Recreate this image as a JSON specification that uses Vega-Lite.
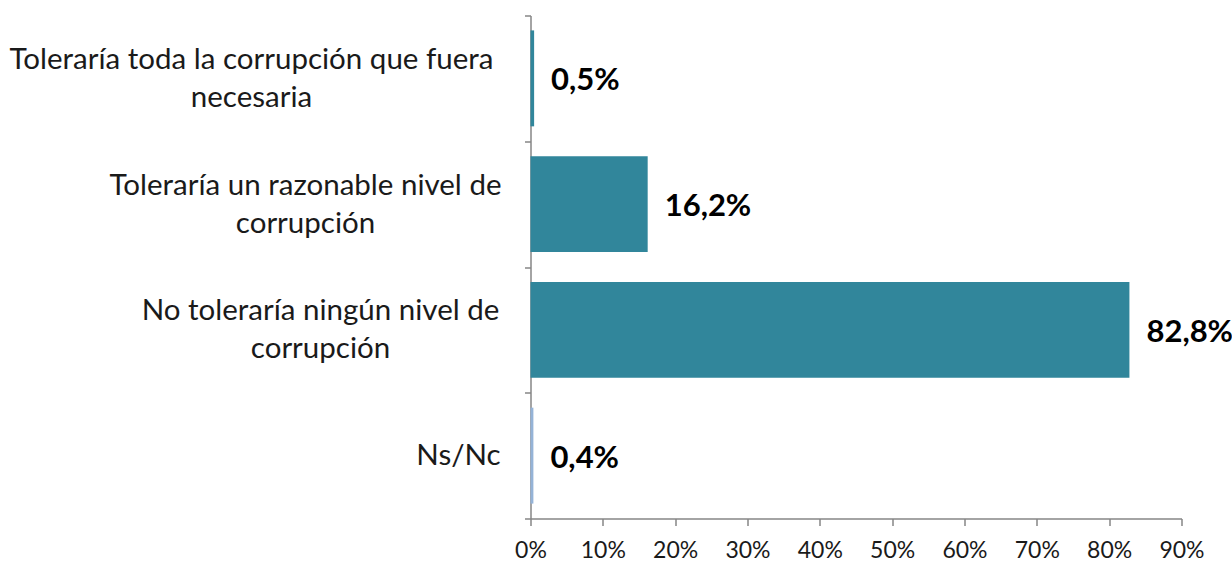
{
  "$schema": "https://vega.github.io/schema/vega-lite/v6.json",
  "width": 651,
  "height": 503,
  "autosize": {"type": "none"},
  "padding": {"left": 530.5, "top": 15.5, "right": 50.5, "bottom": 44.5},
  "background": "white",
  "data": {"values": [
    {"respuesta": "Toleraría toda la corrupción que fuera necesaria", "pct": 0.5, "grupo": "a"},
    {"respuesta": "Toleraría un razonable nivel de corrupción", "pct": 16.2, "grupo": "a"},
    {"respuesta": "No toleraría ningún nivel de corrupción", "pct": 82.8, "grupo": "a"},
    {"respuesta": "Ns/Nc", "pct": 0.4, "grupo": "b"}
  ]},
  "encoding": {
    "y": {
      "field": "respuesta", "type": "nominal", "sort": null,
      "scale": {"paddingInner": 0, "paddingOuter": 0},
      "axis": {
        "title": null,
        "domainColor": "#868686", "domainWidth": 1.5,
        "tickColor": "#868686", "tickWidth": 1.5, "tickSize": 6, "tickBand": "extent",
        "labelFont": "Lato", "labelFontSize": 29.5, "labelColor": "#1a1a1a",
        "labelPadding": 24.5, "labelLimit": 700, "labelLineHeight": 38,
        "labelAlign": "center", "labelBaseline": "middle",
        "labelExpr": "datum.value == 'Toleraría toda la corrupción que fuera necesaria' ? ['Toleraría toda la corrupción que fuera', 'necesaria'] : datum.value == 'Toleraría un razonable nivel de corrupción' ? ['Toleraría un razonable nivel de', 'corrupción'] : datum.value == 'No toleraría ningún nivel de corrupción' ? ['No toleraría ningún nivel de', 'corrupción'] : datum.value",
        "encoding": {
          "labels": {
            "dx": {
              "condition": [
                {"test": "datum.value == 'Ns/Nc'", "value": -42},
                {"test": "datum.value == 'Toleraría toda la corrupción que fuera necesaria'", "value": -249},
                {"test": "datum.value == 'Toleraría un razonable nivel de corrupción'", "value": -195}
              ],
              "value": -180
            },
            "dy": {
              "condition": {"test": "datum.value == 'Ns/Nc'", "value": 0},
              "value": -19
            }
          }
        }
      }
    },
    "x": {
      "field": "pct", "type": "quantitative",
      "scale": {"domain": [0, 90], "nice": false},
      "axis": {
        "title": null, "values": [0,10,20,30,40,50,60,70,80,90],
        "grid": false, "labelFlush": false,
        "domainColor": "#868686", "domainWidth": 1.5,
        "tickColor": "#868686", "tickWidth": 1.5, "tickSize": 7,
        "labelFont": "Lato", "labelFontSize": 23, "labelColor": "#1a1a1a",
        "labelPadding": 14,
        "labelExpr": "datum.value + '%'"
      }
    }
  },
  "layer": [
    {
      "mark": {"type": "bar", "height": {"band": 0.763}},
      "encoding": {
        "color": {"field": "grupo", "type": "nominal",
          "scale": {"domain": ["a", "b"], "range": ["#31869B", "#95B3D7"]},
          "legend": null}
      }
    },
    {
      "transform": [{"calculate": "replace(format(datum.pct, '.1f'), '.', ',') + '%'", "as": "etiqueta"}],
      "mark": {"type": "text", "align": "left", "baseline": "middle", "dx": 17, "dy": 3, "font": "Lato", "fontSize": 31, "fontWeight": "bold", "color": "#000000"},
      "encoding": {"text": {"field": "etiqueta"}}
    }
  ],
  "config": {"view": {"stroke": null}}
}
